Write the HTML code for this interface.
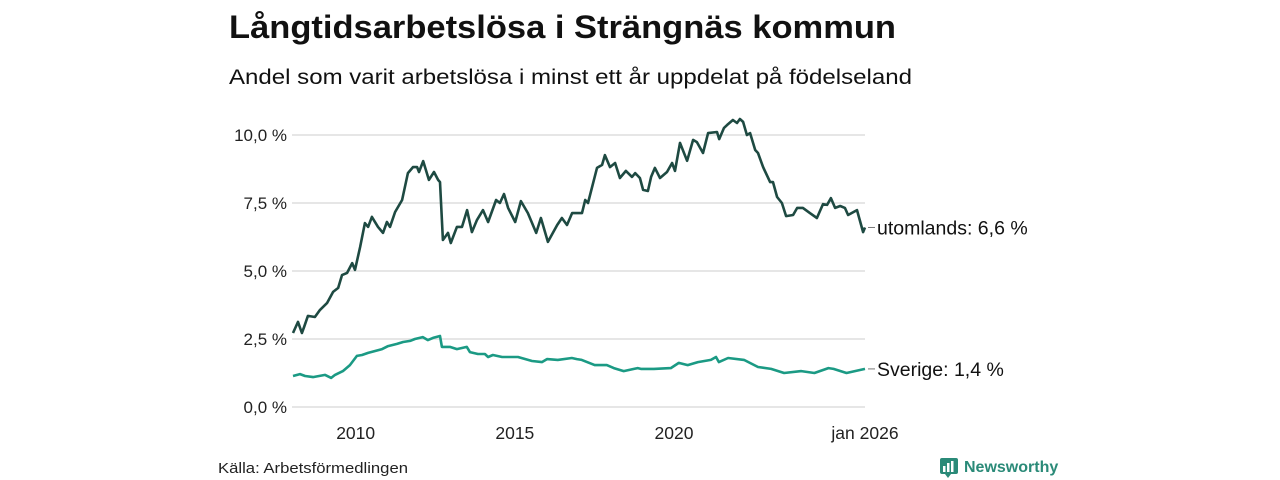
<!DOCTYPE html>
<html><head><meta charset="utf-8"><style>
html,body{margin:0;padding:0;background:#fff;width:1280px;height:480px;overflow:hidden}
svg{display:block;font-family:"Liberation Sans",sans-serif}
</style></head><body>
<svg id="chart" width="1280" height="480" viewBox="0 0 1280 480">
<text x="229" y="38" font-size="32" font-weight="bold" fill="#111" textLength="667" lengthAdjust="spacingAndGlyphs">Långtidsarbetslösa i Strängnäs kommun</text>
<text x="229" y="84" font-size="21" fill="#111" textLength="683" lengthAdjust="spacingAndGlyphs">Andel som varit arbetslösa i minst ett år uppdelat på födelseland</text>
<g id="grid"></g>
<g id="yticks"></g>
<g id="xticks"></g>
<g id="series"></g>
<g id="labels"></g>
<text x="218" y="473" font-size="15" fill="#222" textLength="190" lengthAdjust="spacingAndGlyphs">Källa: Arbetsförmedlingen</text>
<g>
<rect x="940" y="458" width="18" height="16" rx="2" fill="#2a8a78"/>
<polygon points="945,474 951,474 948,478" fill="#2a8a78"/>
<rect x="943" y="466" width="2.5" height="6" fill="#fff"/><rect x="947" y="463" width="2.5" height="9" fill="#fff"/><rect x="951" y="461" width="2.5" height="11" fill="#fff"/>
<text x="964" y="472" font-size="16" font-weight="bold" fill="#2a8a78">Newsworthy</text>
</g>
</svg>
<script>
const yTicks = [0, 2.5, 5, 7.5, 10];
const yTickLabels = ["0,0 %", "2,5 %", "5,0 %", "7,5 %", "10,0 %"];
const xTicks = [2010, 2015, 2020, 2026];
const xTickLabels = ["2010", "2015", "2020", "jan 2026"];
const seriesNames = ["utomlands", "Sverige"];
const lastLabels = ["utomlands: 6,6 %", "Sverige: 1,4 %"];
const abroadDates = [2008.03,2008.19,2008.31,2008.38,2008.50,2008.72,2008.88,2009.10,2009.29,2009.45,2009.57,2009.73,2009.89,2009.98,2010.14,2010.29,2010.39,2010.51,2010.70,2010.86,2010.98,2011.08,2011.24,2011.46,2011.64,2011.80,2011.93,2011.99,2012.12,2012.30,2012.46,2012.59,2012.65,2012.74,2012.90,2012.99,2013.18,2013.34,2013.50,2013.65,2013.81,2014.00,2014.16,2014.41,2014.53,2014.66,2014.79,2015.01,2015.19,2015.41,2015.67,2015.82,2016.04,2016.33,2016.48,2016.64,2016.80,2016.99,2017.11,2017.21,2017.30,2017.58,2017.74,2017.83,2017.99,2018.15,2018.30,2018.49,2018.68,2018.78,2018.93,2019.03,2019.18,2019.28,2019.40,2019.56,2019.78,2019.94,2020.03,2020.19,2020.41,2020.60,2020.72,2020.91,2021.07,2021.35,2021.42,2021.57,2021.67,2021.85,2021.98,2022.07,2022.17,2022.29,2022.39,2022.55,2022.64,2022.80,2023.02,2023.11,2023.24,2023.39,2023.52,2023.74,2023.87,2024.05,2024.27,2024.49,2024.68,2024.81,2024.93,2025.06,2025.22,2025.37,2025.47,2025.75,2025.94,2026.0];
const abroadValues = [2.72,3.13,2.72,2.94,3.35,3.31,3.57,3.82,4.23,4.38,4.85,4.93,5.29,5.04,5.88,6.76,6.62,6.99,6.62,6.40,6.80,6.62,7.17,7.61,8.60,8.82,8.82,8.64,9.04,8.35,8.64,8.35,8.27,6.14,6.40,6.03,6.62,6.62,7.24,6.43,6.88,7.24,6.80,7.61,7.50,7.83,7.32,6.80,7.57,7.13,6.40,6.95,6.07,6.69,6.95,6.69,7.13,7.13,7.13,7.61,7.50,8.79,8.90,9.26,8.82,8.97,8.42,8.68,8.46,8.60,8.42,7.98,7.94,8.46,8.79,8.42,8.64,8.97,8.68,9.71,9.05,9.82,9.74,9.34,10.07,10.11,9.85,10.26,10.37,10.55,10.44,10.59,10.48,10.00,10.07,9.45,9.34,8.82,8.27,8.27,7.72,7.50,7.02,7.06,7.32,7.32,7.13,6.95,7.46,7.43,7.68,7.32,7.39,7.32,7.06,7.24,6.43,6.60];
const swedenDates = [2008.03,2008.25,2008.41,2008.66,2009.04,2009.23,2009.35,2009.60,2009.82,2010.04,2010.20,2010.39,2010.61,2010.83,2011.02,2011.30,2011.49,2011.71,2011.86,2012.11,2012.27,2012.43,2012.65,2012.71,2012.96,2013.18,2013.49,2013.59,2013.84,2014.06,2014.16,2014.31,2014.60,2015.10,2015.54,2015.85,2016.01,2016.35,2016.79,2016.95,2017.10,2017.51,2017.89,2018.11,2018.42,2018.86,2018.96,2019.37,2019.90,2020.15,2020.43,2020.75,2021.16,2021.32,2021.41,2021.70,2022.20,2022.64,2023.05,2023.46,2024.00,2024.41,2024.85,2025.01,2025.42,2026.0];
const swedenValues = [1.14,1.21,1.14,1.10,1.18,1.07,1.18,1.32,1.54,1.88,1.91,1.99,2.06,2.13,2.24,2.32,2.39,2.43,2.50,2.57,2.46,2.54,2.61,2.21,2.21,2.13,2.21,2.02,1.95,1.95,1.84,1.91,1.84,1.84,1.69,1.65,1.76,1.73,1.80,1.76,1.73,1.54,1.54,1.43,1.32,1.43,1.40,1.40,1.43,1.62,1.54,1.65,1.73,1.84,1.65,1.80,1.73,1.47,1.40,1.25,1.32,1.25,1.43,1.40,1.25,1.40];

const NS = "http://www.w3.org/2000/svg";
const X0 = 292, X1 = 865, Y0 = 407, Y1 = 135;
const xScale = d => X0 + (d - 2008) / (2026 - 2008) * (X1 - X0);
const yScale = v => Y0 - v / 10 * (Y0 - Y1);
function mk(tag, attrs, parent){const e=document.createElementNS(NS,tag);for(const k in attrs)e.setAttribute(k,attrs[k]);parent.appendChild(e);return e;}

const grid=document.getElementById('grid'), yt=document.getElementById('yticks'), xt=document.getElementById('xticks');
yTicks.forEach((v,i)=>{
  const l=mk('line',{x1:X0,x2:X1,y1:yScale(v),y2:yScale(v),stroke:'#dedede','stroke-width':1.5},grid);
  
  
  const t=mk('text',{x:287,y:yScale(v)+6,'font-size':17,'text-anchor':'end',fill:'#222'},yt);
  t.textContent=yTickLabels[i];
  
  
});
xTicks.forEach((d,i)=>{
  const t=mk('text',{x:xScale(d),y:439,'font-size':17.5,'text-anchor':'middle',fill:'#222'},xt);
  t.textContent=xTickLabels[i];
  
  
});
const series=document.getElementById('series'), labels=document.getElementById('labels');
function drawLine(dates, vals, color, name, label){
  const pts=dates.map((d,i)=>xScale(d).toFixed(1)+','+yScale(vals[i]).toFixed(1)).join(' ');
  const p=mk('polyline',{points:pts,fill:'none',stroke:color,'stroke-width':2.6,'stroke-linejoin':'round'},series);
  
  
  const ly=yScale(vals[vals.length-1]);
  const lx=xScale(dates[dates.length-1]);
  const c=mk('line',{x1:lx+3,x2:lx+10,y1:ly,y2:ly,stroke:'#777','stroke-width':1},labels);
  
  
  const t=mk('text',{x:lx+12,y:ly+7,'font-size':19.5,fill:'#111'},labels);
  t.textContent=label;
  
  
}
drawLine(swedenDates, swedenValues, '#1b9a84', 'sverige', lastLabels[1]);
drawLine(abroadDates, abroadValues, '#1e4a42', 'utomlands', lastLabels[0]);
</script>
</body></html>
